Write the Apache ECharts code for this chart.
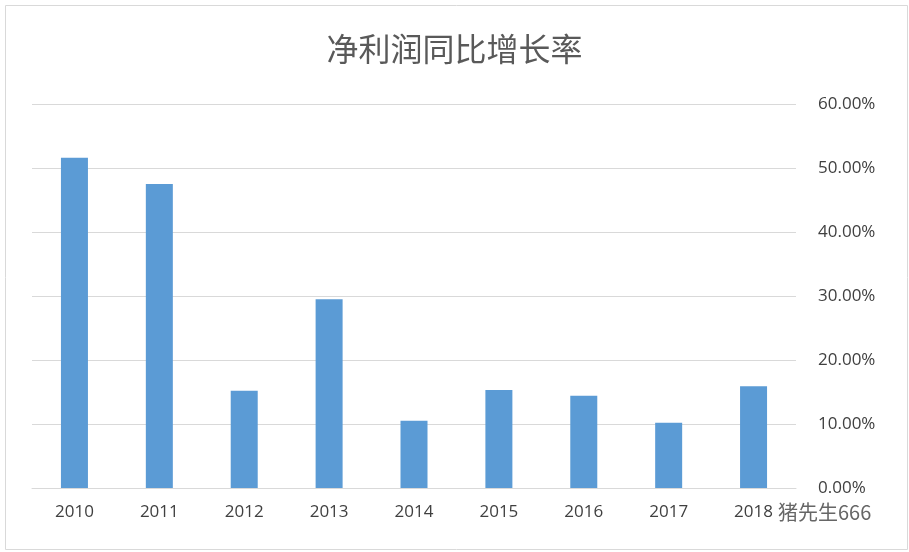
<!DOCTYPE html>
<html>
<head>
<meta charset="utf-8">
<script src="https://cdn.jsdelivr.net/npm/echarts@6/dist/echarts.min.js"></script>
<style>
html,body{margin:0;padding:0;background:#fff;}
#main{width:909px;height:552px;}
</style>
</head>
<body>
<div id="main"></div>
<script>
// 年份
const years = ['2010', '2011', '2012', '2013', '2014', '2015', '2016', '2017', '2018'];
// 净利润同比增长率(%)
const growth = [51.6, 47.5, 15.2, 29.5, 10.5, 15.3, 14.4, 10.2, 15.9];
const yTicks = [0, 10, 20, 30, 40, 50, 60];

let myChart = echarts.init(document.getElementById('main'));
myChart.setOption({
    title: {
        text: '净利润同比增长率',
        left: 'center',
        top: 28,
        textStyle: { fontFamily: 'Noto Sans CJK SC', fontSize: 32, fontWeight: 'normal', color: '#595959' }
    },
    graphic: [{
        type: 'rect', left: 3, top: 3,
        shape: { width: 902, height: 544 },
        style: { fill: 'none', stroke: '#d9d9d9', lineWidth: 1 }
    }, {
        type: 'text', left: 778, top: 502,
        style: { text: '猪先生666', fontFamily: 'Noto Sans CJK SC', fontSize: 20, fill: '#666' }
    }],
    grid: { left: 32, right: 113, top: 104, bottom: 64 },
    xAxis: {
        type: 'category',
        data: years,
        axisTick: { show: false },
        axisLine: { lineStyle: { color: '#d9d9d9' } },
        axisLabel: { color: '#404040', fontSize: 17, margin: 16, fontFamily: 'Open Sans' }
    },
    yAxis: {
        type: 'value',
        position: 'right',
        min: yTicks[0],
        max: yTicks[yTicks.length - 1],
        interval: 10,
        axisLine: { show: false },
        axisTick: { show: false },
        splitLine: { lineStyle: { color: '#d9d9d9' } },
        axisLabel: { color: '#404040', fontSize: 17, margin: 22, fontFamily: 'Open Sans',
            formatter: v => v.toFixed(2) + '%' }
    },
    series: [{
        type: 'bar',
        data: growth,
        barWidth: 27,
        itemStyle: { color: '#5B9BD5' }
    }]
});
</script>
</body>
</html>
